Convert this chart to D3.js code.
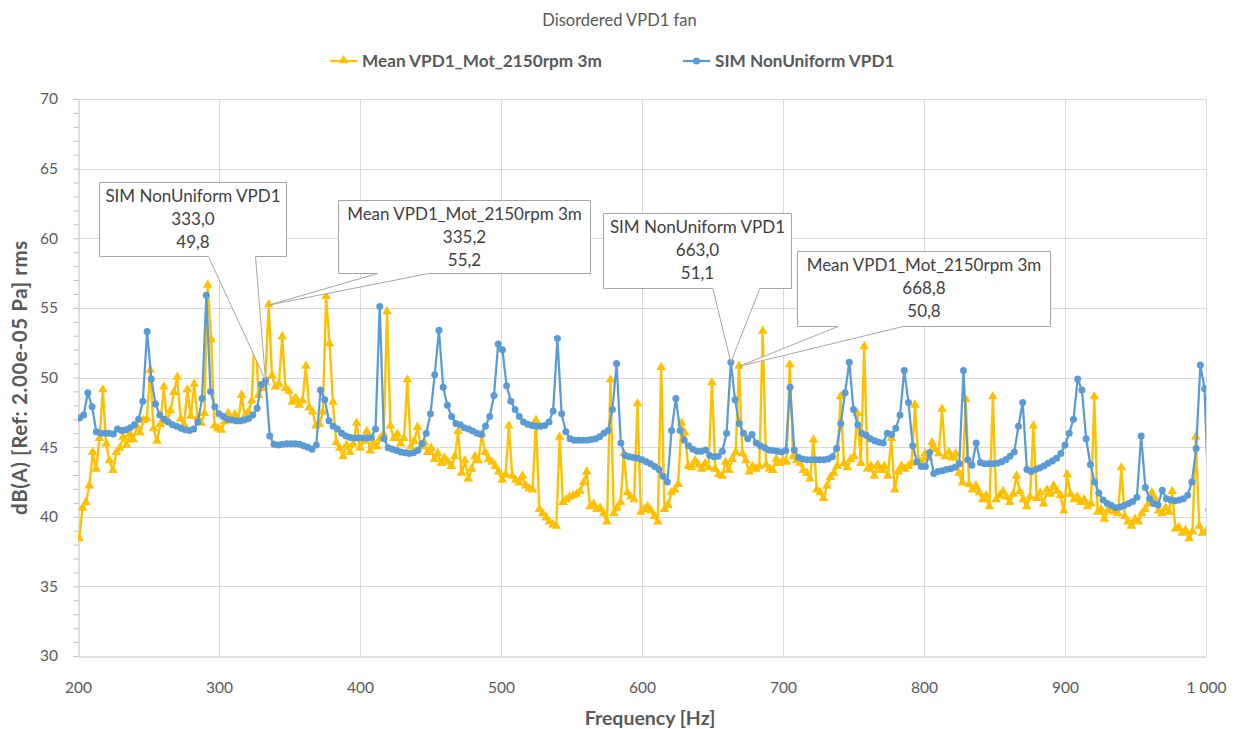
<!DOCTYPE html>
<html>
<head>
<meta charset="utf-8">
<script src="https://cdn.jsdelivr.net/npm/d3@7"></script>
<style>
  body { margin: 0; background: #fff; }
  svg { display: block; font-family: Lato, "Open Sans", sans-serif; }
</style>
</head>
<body>
<div id="chart"></div>
<script>
"use strict"

//-----------------------------DATA-----------------------------//
const chartTitle = "Disordered VPD1 fan";
const xTitle = "Frequency [Hz]";
const yTitle = "dB(A) [Ref: 2.00e-05 Pa] rms";
const seriesNames = ["Mean VPD1_Mot_2150rpm 3m", "SIM NonUniform VPD1"];
const xTicks = [200, 300, 400, 500, 600, 700, 800, 900, 1000];
const yTicks = [30, 35, 40, 45, 50, 55, 60, 65, 70];

// measured spectrum, sampled every 2.4 Hz from 200.8 Hz
const meanStart = 200.8;
const meanStep = 2.4;
const meanValues = [
    38.4, 40.6, 41.0, 42.2, 44.6, 43.4, 45.6, 49.1, 45.2, 44.0,
    43.3, 44.6, 44.9, 45.7, 45.1, 45.9, 45.5, 46.5, 46.0, 46.9,
    47.0, 50.5, 46.3, 45.4, 46.6, 49.3, 46.8, 47.6, 48.9, 50.0,
    47.0, 46.6, 49.1, 47.2, 49.5, 47.1, 46.7, 47.4, 56.6, 52.7,
    46.5, 46.3, 46.2, 46.8, 47.4, 46.9, 47.3, 46.8, 48.7, 47.2,
    47.5, 48.3, 54.0, 48.7, 49.2, 49.6, 55.2, 50.1, 49.3, 49.5,
    52.9, 49.2, 49.0, 48.2, 48.5, 48.0, 48.3, 50.8, 47.8, 47.5,
    46.5, 46.6, 47.5, 55.8, 52.4, 48.2, 45.3, 44.9, 44.3, 45.1,
    44.6, 45.2, 46.7, 44.9, 45.4, 46.1, 44.7, 45.3, 45.0, 45.6,
    45.9, 54.7, 46.5, 45.6, 45.9, 45.2, 45.6, 49.8, 45.0, 45.4,
    46.4, 45.0, 45.3, 44.6, 44.9, 44.1, 44.5, 43.8, 44.2, 43.9,
    43.6, 44.3, 46.1, 43.1, 44.0, 42.7, 43.4, 44.3, 44.0, 45.9,
    44.6, 44.1, 43.9, 43.6, 43.2, 42.6, 43.0, 46.5, 42.9, 42.6,
    42.4, 42.9, 42.2, 42.0, 41.9, 46.9, 40.5, 40.2, 39.9, 39.6,
    39.4, 39.3, 45.7, 41.0, 41.2, 41.4, 41.5, 41.6, 41.8, 42.4,
    43.2, 40.7, 40.9, 40.5, 40.6, 40.2, 39.6, 49.8, 40.2, 40.6,
    41.0, 44.5, 41.7, 41.4, 41.2, 48.1, 40.3, 40.5, 40.7, 40.4,
    40.0, 39.6, 50.7, 40.5, 40.8, 41.7, 41.9, 42.3, 46.7, 46.0,
    43.6, 43.5, 44.0, 43.7, 43.4, 43.8, 43.5, 49.6, 43.4, 43.0,
    42.9, 43.9, 43.3, 44.1, 44.6, 50.8, 44.5, 44.0, 43.2, 43.6,
    43.4, 43.6, 53.3, 43.7, 43.4, 43.3, 44.1, 43.8, 44.0, 43.9,
    50.9, 44.3, 44.0, 43.8, 43.3, 43.1, 42.7, 45.5, 41.9, 41.7,
    41.3, 42.2, 42.8, 43.1, 43.6, 48.6, 43.8, 43.5, 44.1, 44.3,
    47.4, 43.8, 52.2, 43.4, 43.6, 42.9, 43.7, 43.3, 43.6, 42.9,
    45.6, 41.9, 43.2, 43.6, 43.4, 43.6, 43.8, 48.0, 44.1, 43.9,
    44.5, 44.2, 45.3, 44.8, 44.5, 47.7, 44.3, 44.6, 44.2, 44.5,
    43.1, 42.4, 48.4, 42.3, 41.9, 42.2, 41.7, 41.2, 41.5, 40.7,
    48.6, 41.2, 41.5, 41.8, 41.4, 41.0, 41.6, 42.9, 41.8, 41.2,
    40.7, 41.4, 46.5, 41.3, 41.7, 40.9, 41.9, 41.6, 42.2, 41.8,
    41.5, 40.4, 43.0, 41.6, 41.2, 41.4, 41.0, 41.2, 40.7, 40.9,
    48.6, 40.3, 40.5, 39.8, 40.4, 40.6, 40.3, 40.2, 43.5, 40.0,
    39.6, 39.3, 39.8, 39.6, 40.2, 40.5, 40.9, 41.7, 41.2, 40.4,
    40.2, 40.6, 40.3, 41.8, 39.1, 39.2, 38.8, 39.0, 38.4, 38.9,
    45.7, 39.3, 38.8, 38.9
];

// simulation, sampled every 3 Hz from 201 Hz
const simStart = 201;
const simStep = 3;
const simValues = [
    47.1, 47.3, 48.9, 47.9, 46.1, 46.0, 46.0, 46.0, 45.95, 46.3,
    46.2, 46.25, 46.4, 46.6, 47.0, 48.3, 53.3, 49.9, 48.1, 47.3,
    47.0, 46.8, 46.6, 46.5, 46.35, 46.25, 46.2, 46.3, 46.8, 48.5,
    55.9, 49.0, 47.9, 47.4, 47.2, 47.0, 46.95, 46.9, 46.9, 46.95,
    47.05, 47.3, 47.8, 49.5, 49.8, 45.8, 45.2, 45.15, 45.2, 45.25,
    45.25, 45.25, 45.2, 45.1, 45.0, 44.85, 45.15, 49.1, 48.4, 46.9,
    46.5, 46.3, 46.0, 45.8, 45.7, 45.65, 45.65, 45.65, 45.65, 45.7,
    46.3, 55.1, 45.6, 44.95, 44.85, 44.75, 44.65, 44.6, 44.55, 44.6,
    44.75, 45.25, 46.0, 47.4, 50.2, 53.4, 49.3, 48.0, 47.2, 46.7,
    46.6, 46.4, 46.3, 46.15, 46.0, 45.9, 46.5, 47.2, 48.7, 52.4,
    52.0, 49.4, 48.3, 47.7, 47.2, 46.8, 46.65, 46.55, 46.5, 46.5,
    46.55, 46.8, 47.6, 52.8, 47.4, 46.1, 45.6, 45.5, 45.5, 45.5,
    45.5, 45.55, 45.6, 45.75, 46.0, 46.2, 47.7, 51.0, 45.3, 44.4,
    44.3, 44.25, 44.2, 44.1, 43.95, 43.8, 43.6, 43.4, 42.9, 42.5,
    46.2, 48.5, 46.2, 45.5, 45.1, 44.85, 44.7, 44.7, 44.8, 44.4,
    44.3, 44.35, 44.7, 46.0, 51.1, 48.4, 46.7, 46.0, 45.6, 45.9,
    45.3, 45.1, 44.95, 44.8, 44.75, 44.7, 44.65, 44.75, 49.3, 44.8,
    44.25, 44.15, 44.1, 44.1, 44.1, 44.1, 44.1, 44.15, 44.3, 44.9,
    46.7, 48.9, 51.1, 47.7, 46.6, 46.0, 45.85, 45.6, 45.45, 45.35,
    45.3, 46.0, 45.9, 46.35, 47.3, 50.5, 48.2, 45.1, 43.95, 43.6,
    43.6, 44.6, 43.1, 43.25, 43.3, 43.4, 43.45, 43.55, 43.8, 50.5,
    44.1, 43.7, 45.3, 43.9, 43.8, 43.8, 43.8, 43.85, 43.95, 44.1,
    44.35, 44.65, 46.5, 48.2, 43.4, 43.25, 43.4, 43.5, 43.65, 43.85,
    44.0, 44.2, 44.55, 45.15, 46.0, 47.0, 49.9, 49.1, 45.6, 43.75,
    42.5, 41.7, 41.2, 40.95, 40.8, 40.65, 40.7, 40.8, 40.95, 41.1,
    41.4, 45.8, 42.1, 41.3, 40.95, 40.85, 41.9, 41.3, 41.2, 41.15,
    41.2, 41.3, 41.55, 42.5, 44.9, 50.9, 49.2, 40.5
];

// data labels: which series, which frequency
const labelSeries = [1, 0, 1, 0];
const labelFreqs = [333.0, 335.2, 663.0, 668.8];

//------------------------PREPARATION---------------------------//
const width = 1239;
const height = 729;
const margin = {top: 99, right: 33, bottom: 73, left: 78};
const colors = ["#FFC000", "#5B9BD5"];
const gridColor = "#d9d9d9";
const textColor = "#595959";

const meanData = meanValues.map((v, i) => ({f: meanStart + i * meanStep, v: v}));
const simData = simValues.map((v, i) => ({f: simStart + i * simStep, v: v}));
const series = [meanData, simData];

const svg = d3.select("#chart").append("svg")
    .attr("width", width)
    .attr("height", height);

const xScale = d3.scaleLinear().domain([200, 1000]).range([margin.left, width - margin.right]);
const yScale = d3.scaleLinear().domain([30, 70]).range([height - margin.bottom, margin.top]);

//-----------------------------GRID-----------------------------//
const grid = svg.append("g");
grid.selectAll(".hg").data(yTicks.slice(1)).enter().append("line")
    .attr("x1", margin.left).attr("x2", width - margin.right)
    .attr("y1", d => Math.round(yScale(d)) + 0.5).attr("y2", d => Math.round(yScale(d)) + 0.5)
    .attr("stroke", gridColor).attr("stroke-width", 1);
grid.selectAll(".vg").data(xTicks.slice(1)).enter().append("line")
    .attr("y1", margin.top).attr("y2", height - margin.bottom)
    .attr("x1", d => Math.round(xScale(d)) + 0.5).attr("x2", d => Math.round(xScale(d)) + 0.5)
    .attr("stroke", gridColor).attr("stroke-width", 1);

//-----------------------------AXES-----------------------------//
const yaxis = d3.axisLeft(yScale).tickValues(d3.range(30, 71, 1)).tickSize(5).tickFormat("");
const yaxisEl = svg.append("g")
    .attr("transform", `translate(${margin.left + 0.5},0)`)
    .call(yaxis);
yaxisEl.select(".domain").attr("stroke", "#bfbfbf");
yaxisEl.selectAll(".tick line").attr("stroke", "#bfbfbf");

svg.append("g").selectAll("text").data(yTicks).enter().append("text")
    .attr("x", margin.left - 20)
    .attr("y", d => yScale(d))
    .attr("dy", "0.35em")
    .attr("text-anchor", "end")
    .attr("fill", textColor)
    .style("font-size", "15.5px")
    .text(d => d);

const xaxis = d3.axisBottom(xScale).tickValues(xTicks).tickSize(0)
    .tickFormat(d => d >= 1000 ? d3.format(",")(d).replace(",", "\u00a0") : d);
const xaxisEl = svg.append("g")
    .attr("transform", `translate(0,${height - margin.bottom + 0.5})`)
    .call(xaxis);
xaxisEl.select(".domain").attr("stroke", "#bfbfbf");
xaxisEl.selectAll(".tick text")
    .attr("y", 25)
    .attr("fill", textColor)
    .style("font-size", "15.5px")
    .style("font-family", "Lato, sans-serif");

svg.append("text")
    .attr("x", 650)
    .attr("y", 725)
    .attr("text-anchor", "middle")
    .attr("fill", textColor)
    .style("font-size", "19.5px")
    .style("font-weight", "bold")
    .text(xTitle);

svg.append("text")
    .attr("transform", `translate(27,${(margin.top + height - margin.bottom) / 2}) rotate(-90)`)
    .attr("text-anchor", "middle")
    .attr("fill", textColor)
    .style("font-size", "20.5px")
    .style("font-weight", "bold")
    .style("letter-spacing", "0.6px")
    .text(yTitle);

svg.append("text")
    .attr("x", width / 2)
    .attr("y", 26)
    .attr("text-anchor", "middle")
    .attr("fill", textColor)
    .style("font-size", "16.5px")
    .text(chartTitle);

//----------------------------LINES-----------------------------//
svg.append("clipPath").attr("id", "plotclip")
    .append("rect")
    .attr("x", margin.left).attr("y", margin.top - 10)
    .attr("width", width - margin.left - margin.right)
    .attr("height", height - margin.top - margin.bottom + 10);

const line = d3.line()
    .x(d => xScale(d.f))
    .y(d => yScale(d.v));

const tri = d3.symbol().type(d3.symbolTriangle).size(40);

const plot = svg.append("g").attr("clip-path", "url(#plotclip)");

// yellow series
plot.append("path")
    .datum(meanData)
    .attr("fill", "none")
    .attr("stroke", colors[0])
    .attr("stroke-width", 2.4)
    .attr("stroke-linejoin", "round")
    .attr("d", line);
plot.append("g").selectAll("path").data(meanData).enter().append("path")
    .attr("transform", d => `translate(${xScale(d.f)},${yScale(d.v) - 0.5})`)
    .attr("d", tri)
    .attr("fill", colors[0]);

// blue series
plot.append("path")
    .datum(simData)
    .attr("fill", "none")
    .attr("stroke", colors[1])
    .attr("stroke-width", 2.25)
    .attr("stroke-linejoin", "round")
    .attr("d", line);
plot.append("g").selectAll("circle").data(simData).enter().append("circle")
    .attr("cx", d => xScale(d.f))
    .attr("cy", d => yScale(d.v))
    .attr("r", 3.5)
    .attr("fill", colors[1]);

//----------------------------LEGEND----------------------------//
const legendItems = [
    {x: 330, name: seriesNames[0]},
    {x: 683, name: seriesNames[1]}
];
const legend = svg.append("g");
legendItems.forEach((item, i) => {
    const g = legend.append("g").attr("transform", `translate(${item.x},61)`);
    g.append("line").attr("x1", 0).attr("x2", 27)
        .attr("stroke", colors[i]).attr("stroke-width", 2.25);
    if (i === 0) {
        g.append("path").attr("transform", "translate(13.5,-0.5)").attr("d", tri).attr("fill", colors[0]);
    } else {
        g.append("circle").attr("cx", 13.5).attr("r", 3.5).attr("fill", colors[1]);
    }
    g.append("text").attr("x", 32).attr("dy", "0.35em")
        .attr("fill", textColor)
        .style("font-size", "17.2px")
        .style("font-weight", "bold")
        .text(item.name);
});

//---------------------------CALLOUTS---------------------------//
// box offsets from the labelled point: [left, top, right, bottom, wedgeLeft, wedgeRight]
const boxLayout = [
    [-167, -198, 20, -124, -57, -10],
    [69, -105, 321, -32, 109, 160],
    [-128, -149, 60, -74, -18, 29],
    [58, -115, 311, -40, 99, 164]
];
const numFmt = v => d3.format(".1f")(v).replace(".", ",");

labelFreqs.forEach((f, i) => {
    const data = series[labelSeries[i]];
    const pt = data.reduce((a, b) => Math.abs(b.f - f) < Math.abs(a.f - f) ? b : a);
    const px = xScale(pt.f);
    const py = yScale(pt.v);
    const [l, t, r, b, wl, wr] = boxLayout[i];
    const L = Math.round(px + l) + 0.5, T = Math.round(py + t) + 0.5;
    const R = Math.round(px + r) + 0.5, B = Math.round(py + b) + 0.5;
    const path = `M${L},${T}H${R}V${B}H${px + wr}L${px},${py}L${px + wl},${B}H${L}Z`;
    svg.append("path")
        .attr("d", path)
        .attr("fill", "#fff")
        .attr("stroke", "#a6a6a6")
        .attr("stroke-width", 1);
    const cx = (L + R) / 2;
    const lines = [seriesNames[labelSeries[i]], numFmt(pt.f), numFmt(pt.v)];
    svg.append("g").selectAll("text").data(lines).enter().append("text")
        .attr("x", cx)
        .attr("y", (d, j) => T + 14 + j * 23)
        .attr("dy", "0.35em")
        .attr("text-anchor", "middle")
        .attr("fill", "#404040")
        .style("font-size", "17px")
        .text(d => d);
});
</script>
</body>
</html>
